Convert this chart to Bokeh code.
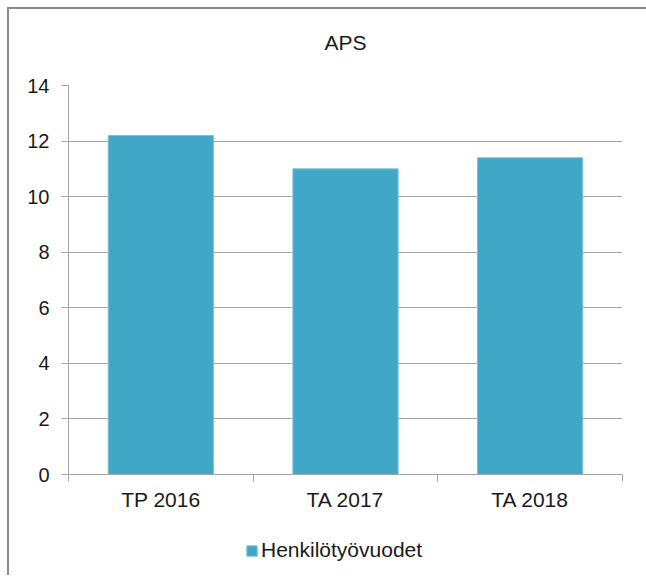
from bokeh.plotting import figure
from bokeh.models import FixedTicker, Legend, LegendItem, ColumnDataSource
from bokeh.core.properties import value
from bokeh.layouts import column
from bokeh.embed import file_html
from bokeh.resources import INLINE

title = "APS"
categories = ["TP 2016", "TA 2017", "TA 2018"]
values = [12.2, 11.0, 11.4]
series_name = "Henkilötyövuodet"
y_ticks = [0, 2, 4, 6, 8, 10, 12, 14]

FONT = "Liberation Sans"
TXT = "#1a1a1a"
GRID = "#a6a6a6"
BAR = "#40A8C6"
BAR_EDGE = "#7cc3d8"

xs = [i + 0.5 for i in range(len(categories))]
src = ColumnDataSource(dict(x=xs, top=values, cat=categories))


def strip(height, y_range=(0, 1)):
    f = figure(width=637, height=height, output_backend="svg", toolbar_location=None,
               x_range=(0, 1), y_range=y_range,
               x_axis_location=None, y_axis_location=None,
               min_border_left=0, min_border_right=0, min_border_top=0, min_border_bottom=0)
    f.grid.visible = False
    f.outline_line_color = None
    f.background_fill_color = "white"
    f.border_fill_color = "white"
    return f


# title strip
pt = strip(66)
pt.text(x=[0.5], y=[0.5], text=[title], text_align="center", text_baseline="middle",
        text_font=value(FONT), text_font_size="21px", text_color=TXT)

# main chart
p = figure(width=637, height=445, output_backend="svg", toolbar_location=None,
           x_range=(0, len(categories)), y_range=(0, 14),
           min_border_left=59, min_border_right=24, min_border_top=10, min_border_bottom=46)

r = p.vbar(x="x", top="top", width=0.57, bottom=0, source=src,
           fill_color=BAR, line_color=BAR_EDGE, line_width=1)

p.outline_line_color = None
p.background_fill_color = "white"
p.border_fill_color = "white"

ya = p.yaxis[0]
ya.ticker = FixedTicker(ticks=y_ticks)
ya.axis_line_color = GRID
ya.major_tick_line_color = GRID
ya.major_tick_out = 7
ya.major_tick_in = 0
ya.minor_tick_line_color = None
ya.major_label_text_font = FONT
ya.major_label_text_font_size = "20px"
ya.major_label_text_color = TXT
ya.major_label_standoff = 12

xa = p.xaxis[0]
xa.ticker = FixedTicker(ticks=xs, minor_ticks=list(range(len(categories) + 1)))
xa.major_label_overrides = {x: c for x, c in zip(xs, categories)}
xa.axis_line_color = GRID
xa.major_tick_line_color = None
xa.major_tick_out = 7
xa.major_tick_in = 0
xa.minor_tick_line_color = GRID
xa.minor_tick_out = 7
xa.minor_tick_in = 0
xa.major_label_text_font = FONT
xa.major_label_text_font_size = "21px"
xa.major_label_text_color = TXT
xa.major_label_standoff = 6

p.xgrid.grid_line_color = None
p.ygrid.ticker = FixedTicker(ticks=y_ticks)
p.ygrid.grid_line_color = GRID
p.ygrid.grid_line_width = 1

# legend strip (its ranges keep the key's bars out of view)
pl = strip(55, y_range=(100, 101))
key = pl.vbar(x="x", top="top", width=0.57, bottom=0, source=src,
              fill_color=BAR, line_color=BAR_EDGE, line_width=1)

legend = Legend(items=[LegendItem(label=series_name, renderers=[key])],
                orientation="horizontal", location=(177, 13),
                glyph_width=13, glyph_height=13, label_standoff=3,
                label_text_font=FONT, label_text_font_size="21px",
                label_text_color=TXT, border_line_color=None,
                background_fill_alpha=0, margin=0, padding=4)
pl.add_layout(legend)

layout = column(pt, p, pl, spacing=0)
layout.styles = {"border-left": "2px solid #8a8a8a", "border-top": "2px solid #8a8a8a",
                 "margin-left": "7px", "margin-top": "7px"}

open("out.html", "w").write(file_html(layout, INLINE))
